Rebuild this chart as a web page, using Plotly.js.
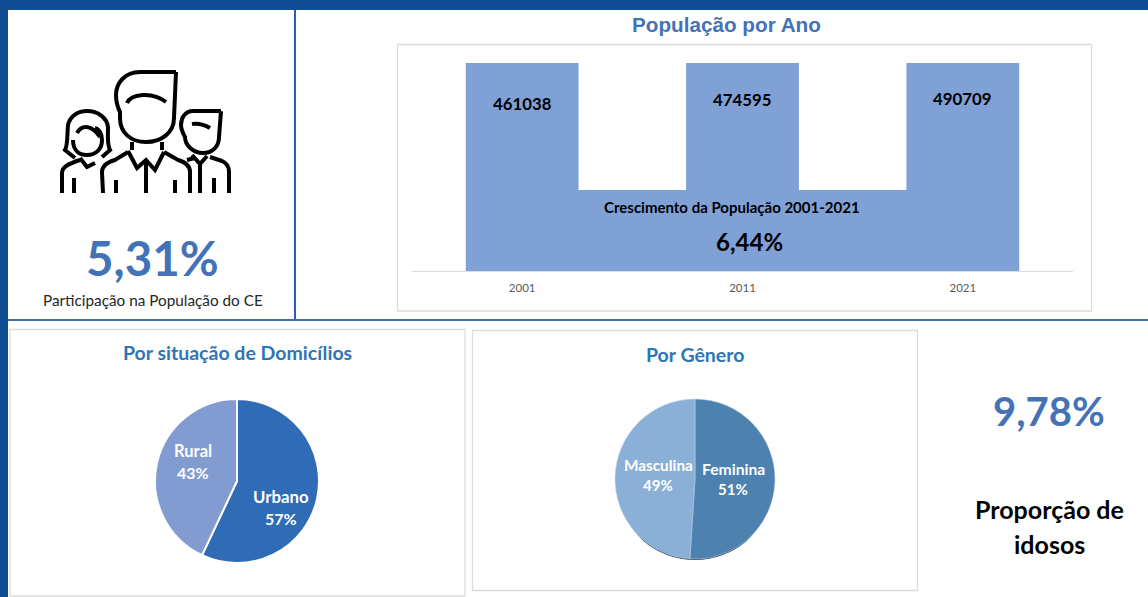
<!DOCTYPE html>
<html><head><meta charset="utf-8">
<script src="https://cdn.plot.ly/plotly-3.0.1.min.js"></script>
<style>html,body{margin:0;padding:0;background:#fff;overflow:hidden}#c{width:1148px;height:597px}</style>
</head><body><div id="c"></div>
<script>
const years = ['2001','2011','2021'];
const population = [461038,474595,490709];
const domLabels = ['Urbano','Rural'];
const domValues = [57,43];
const genLabels = ['Feminina','Masculina'];
const genValues = [51,49];
const kpiShare = '5,31%';
const kpiGrowth = '6,44%';
const kpiElderly = '9,78%';

const W=1148,H=597;
const px=x=>x/W, py=y=>1-y/H;
const P=s=>s.replace(/(-?[\d.]+),(-?[\d.]+)/g,(m,a,b)=>px(+a)+','+py(+b));
const rect=(x0,y0,x1,y1,fill,line,layer)=>({type:'rect',xref:'paper',yref:'paper',x0:px(x0),x1:px(x1),y0:py(y1),y1:py(y0),
  fillcolor:fill,line:line?{color:line,width:1.3}:{width:0},layer:layer||'below'});
const icon=[
 'M176,72 L140,72 C125,72 116,83 116,95 C116,103 118,108 120,112 L120,118 C120,133 131,142 146,142 C161,142 174,133 174,118 L176,72',
 'M127,103 C131,94 152,91 166,102',
 'M132,142 L132,150 M162,142 L162,150',
 'M128,151 L137,168 L146,160 L155,170 L164,152',
 'M103,193 L102,172 C102,165 108,162 115,160 L128,152',
 'M190,193 L190,172 C190,165 185,162 178,160 L164,152',
 'M146,160 L146,193 M116,180 L116,193 M175,180 L175,193',
 'M221,111 L193,111 C185,111 181,118 181,125 C181,130 184,135 185,137 C185,145 193,153 203,153 C213,153 219,146 219,137 L221,111',
 'M192,124 C198,123 205,125 210,128',
 'M192,155 L200,164 L207,156',
 'M210,157 L222,161 C227,163 229,167 229,172 L229,193',
 'M214,178 L214,193 M200,164 L200,193 M187,160 L195,158',
 'M75,158 L65,150 C68,145 67,135 68,125 C70,116 78,111 87,111 C98,111 107,118 108,127 C108,137 107,145 110,150 L102,157',
 'M73,140 C73,150 79,155 87,155 C96,155 102,149 102,140 C102,134 99,129 95,128',
 'M77,133 C82,124 92,125 100,137',
 'M80,158 L87,167 L95,163',
 'M62,193 L62,173 C62,167 68,164 80,160',
 'M74,178 L74,193'
].map(p=>({type:'path',xref:'paper',yref:'paper',path:P(p),line:{color:'#000',width:4},layer:'above'}));

const shapes=[
 rect(0,0,W,10,'#0f4c92'), rect(0,0,8,H,'#0f4c92'),
 rect(294,10,296,319,'#2f5fa8'), rect(8,319,W,321,'#3f6dab'),
 rect(397.5,44.5,1091.5,311,'#fff','#dcdcdc'),
 rect(10,329.5,465,596,'#fff','#dcdcdc'),
 rect(472.5,330.5,917.5,590.5,'#fff','#dcdcdc'),
 rect(466,190,1019,271,'#7fa1d6'),
 {type:'circle',xref:'paper',yref:'paper',x0:px(622),x1:px(768),y0:py(560),y1:py(430),fillcolor:'#2d4a63',line:{width:0},layer:'below'},
 ...icon
];
const T=(x,y,text,size,color,bold,font)=>({xref:'paper',yref:'paper',x:px(x),y:py(y),text:bold?'<b>'+text+'</b>':text,showarrow:false,
  xanchor:'center',yanchor:'middle',font:{size:size,color:color,family:font||'Lato'}});
const barLabelY=[103,100,98], barLabelX=[522,742,962];
const annotations=[
 T(153,257,kpiShare,47.5,'#4472b8',true),
 T(153,300,'Participação na População do CE',15.3,'#262626',false),
 T(726,25,'População por Ano',20.7,'#4472b8',true,'Liberation Sans'),
 ...population.map((v,i)=>T(barLabelX[i],barLabelY[i],String(v),16.8,'#000',true)),
 T(732,207,'Crescimento da População 2001-2021',15,'#000',true),
 T(749,241,kpiGrowth,24,'#000',true),
 T(237,352,'Por situação de Domicílios',19.5,'#2e75b6',true),
 T(281,496,domLabels[0],16.8,'#fff',true), T(281,518,domValues[0]+'%',16,'#fff',true),
 T(193,451,domLabels[1],16.5,'#fff',true), T(193,473,domValues[1]+'%',16,'#fff',true),
 T(695,354,'Por Gênero',19.5,'#2e75b6',true),
 T(733,469,genLabels[0],15.7,'#fff',true), T(733,489,genValues[0]+'%',15,'#fff',true),
 T(658,465,genLabels[1],15.3,'#fff',true), T(658,485,genValues[1]+'%',15,'#fff',true),
 T(1049,411,kpiElderly,40,'#4472b8',true),
 T(1049,509,'Proporção de',25,'#000',true),
 T(1049,544,'idosos',25,'#000',true)
];
const data=[
 {type:'bar',x:years,y:population,marker:{color:'#7fa1d6'},hoverinfo:'none',xaxis:'x',yaxis:'y'},
 {type:'pie',labels:domLabels,values:domValues,sort:false,direction:'clockwise',rotation:0,textinfo:'none',hoverinfo:'none',
  marker:{colors:['#306bb5','#829bd1'],line:{color:'#fff',width:2}},
  domain:{x:[px(155),px(319)],y:[py(563),py(399)]},showlegend:false},
 {type:'pie',labels:genLabels,values:genValues,sort:false,direction:'clockwise',rotation:0,textinfo:'none',hoverinfo:'none',
  marker:{colors:['#4d81b0','#8ab0d7'],line:{color:'#c9d9ea',width:0.5}},
  domain:{x:[px(615),px(775)],y:[py(559),py(399)]},showlegend:false}
];
const layout={width:W,height:H,margin:{l:0,r:0,t:0,b:0},paper_bgcolor:'#fff',plot_bgcolor:'rgba(0,0,0,0)',showlegend:false,bargap:0.488,
 xaxis:{domain:[px(412),px(1073)],type:'category',range:[-0.5,2.5],showline:true,linecolor:'#dcdcdc',linewidth:1,ticks:'',
   tickfont:{family:'Lato',size:11.5,color:'#595959'},ticklabelstandoff:6,showgrid:false,zeroline:false,fixedrange:true},
 yaxis:{domain:[py(271),py(63)],range:[0,population[0]],visible:false,showgrid:false,zeroline:false,fixedrange:true},
 shapes,annotations};
Plotly.newPlot('c',data,layout,{displayModeBar:false,staticPlot:true});
</script></body></html>
